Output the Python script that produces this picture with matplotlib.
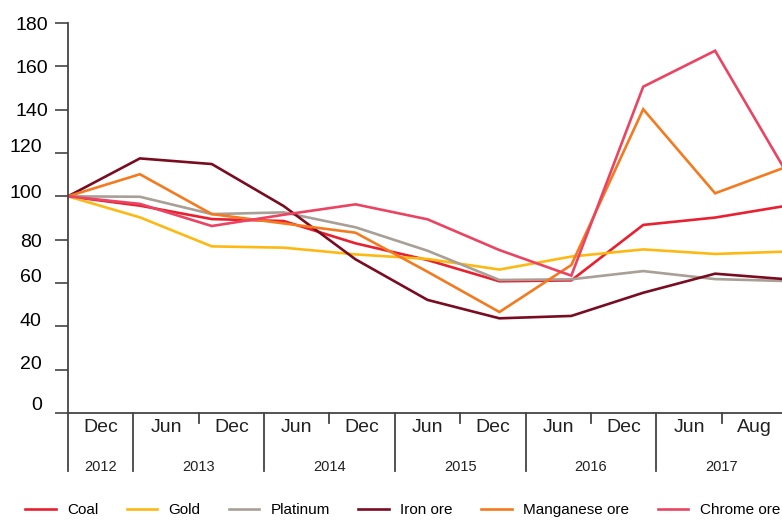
import matplotlib
matplotlib.use("Agg")
import matplotlib.pyplot as plt
import matplotlib.transforms as mtransforms
from matplotlib.lines import Line2D

plt.rcParams["font.family"] = ["Liberation Sans", "DejaVu Sans"]

# Index values (Dec 2012 = 100)
periods = ["Dec", "Jun", "Dec", "Jun", "Dec", "Jun", "Dec", "Jun", "Dec", "Jun", "Aug"]
years = ["2012", "2013", "2014", "2015", "2016", "2017"]
year_span = [1, 2, 2, 2, 2, 2]  # periods per year
series_names = ["Coal", "Gold", "Platinum", "Iron ore", "Manganese ore", "Chrome ore"]
coal = [100, 95.7, 89.5, 88.6, 78.3, 70.6, 60.8, 61.2, 86.8, 90.2, 95.7]
gold = [100, 90.3, 76.9, 76.3, 73.2, 71.1, 66.2, 72.2, 75.5, 73.4, 74.5]
platinum = [100, 99.8, 91.8, 92.6, 85.7, 74.9, 61.4, 61.7, 65.5, 61.8, 60.9]
iron_ore = [100, 117.5, 114.9, 95.5, 70.9, 52.2, 43.7, 44.8, 55.5, 64.3, 61.7]
manganese_ore = [100, 110.2, 91.8, 87.5, 83.2, 65.2, 46.6, 68.3, 140.2, 101.4, 113.7]
chrome_ore = [100, 96.5, 86.3, 91.5, 96.3, 89.4, 75.2, 63.4, 150.6, 167.2, 110.6]
y_ticks = [0, 20, 40, 60, 80, 100, 120, 140, 160, 180]

colors = ["#E8202F", "#FDB913", "#A89F97", "#7A0C22", "#F47A20", "#EA4462"]
axis_color = "#444444"

fig = plt.figure(figsize=(7.82, 5.2), dpi=100)
ax = fig.add_axes([68 / 782, 107 / 520, 719 / 782, 390 / 520])

data = [coal, gold, platinum, iron_ore, manganese_ore, chrome_ore]
x = list(range(len(periods)))
for vals, c in zip(data, colors):
    ax.plot(x, vals, color=c, lw=1.9, solid_joinstyle="miter")

ax.set_xlim(0, len(periods) - 1)
ax.set_ylim(0, 180)

for side in ["top", "right"]:
    ax.spines[side].set_visible(False)
for side in ["left", "bottom"]:
    ax.spines[side].set_color(axis_color)
    ax.spines[side].set_linewidth(1.3)

# y axis ticks, labels sit a bit irregularly in the original
ax.set_yticks(y_ticks)
ax.set_yticklabels([str(v) for v in y_ticks])
ax.tick_params(axis="y", length=9.5, width=1.2, color=axis_color, pad=5, labelsize=14)
nudges = [(-6, 10), (-6, 7), (-6, 7), (-6, 7), (-6, -1), (-6, 5), (-6, 7), (0, 0), (0, 0), (0, 0)]
for lab, (dx, dy) in zip(ax.get_yticklabels(), nudges):
    lab.set_transform(lab.get_transform() + mtransforms.ScaledTranslation(dx / 100, dy / 100, fig.dpi_scale_trans))

# x axis: periods as buckets, years grouped underneath
n = len(periods)
bw = (n - 1) / n
ax.set_xticks([])
trans = mtransforms.blended_transform_factory(ax.transData, ax.transAxes)
edge = 0
for yr, span in zip(years, year_span):
    ax.plot([edge * bw, edge * bw], [0, -58 / 390], transform=trans, color=axis_color, lw=1.3, clip_on=False)
    for k in range(1, span):
        xe = (edge + k) * bw
        ax.plot([xe, xe], [0, -10 / 390], transform=trans, color=axis_color, lw=1.3, clip_on=False)
    ax.text((edge + span / 2) * bw, -54 / 390, yr, transform=trans, ha="center", va="center", fontsize=10.5, color="#222222")
    edge += span
for i, p in enumerate(periods):
    ax.text((i + 0.5) * bw, -14 / 390, p, transform=trans, ha="center", va="center", fontsize=14, color="#222222")

handles = [Line2D([], [], color=c, lw=1.9) for c in colors]
fig.legend(handles, series_names, loc="center left", bbox_to_anchor=(25 / 782, 10 / 520), ncol=6,
           frameon=False, fontsize=11, handlelength=2.0, handletextpad=0.75, columnspacing=1.85,
           borderpad=0, borderaxespad=0)

fig.savefig("out.png", dpi=100)
